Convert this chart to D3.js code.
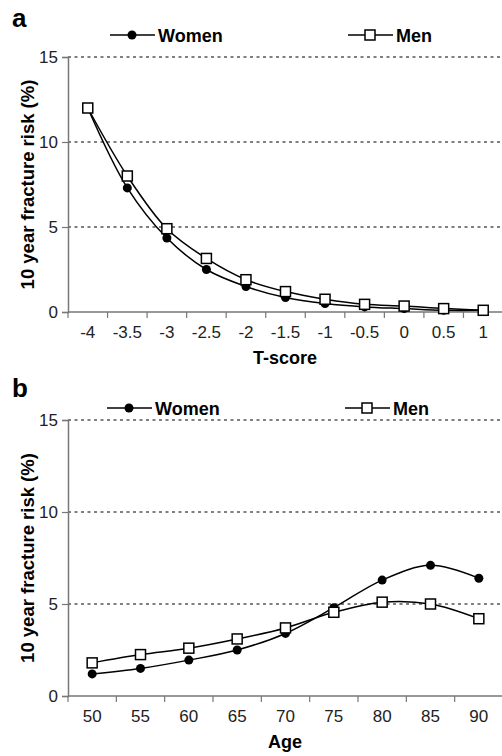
<!DOCTYPE html>
<html>
<head>
<meta charset="utf-8">
<script src="https://cdn.jsdelivr.net/npm/d3@7"></script>
<style>
  body { margin: 0; background: #fff; }
  svg text { font-family: "Liberation Sans", Arial, sans-serif; }
</style>
</head>
<body>
<svg id="chart" width="502" height="756"></svg>
<script>
const tScores = ["-4", "-3.5", "-3", "-2.5", "-2", "-1.5", "-1", "-0.5", "0", "0.5", "1"]
const womenByT = [12.0, 7.3, 4.35, 2.5, 1.5, 0.85, 0.5, 0.3, 0.2, 0.1, 0.1]
const menByT = [12.0, 8.0, 4.9, 3.15, 1.9, 1.2, 0.75, 0.45, 0.35, 0.2, 0.1]

const ages = ["50", "55", "60", "65", "70", "75", "80", "85", "90"]
const womenByAge = [1.2, 1.5, 1.95, 2.5, 3.4, 4.8, 6.3, 7.1, 6.4]
const menByAge = [1.8, 2.25, 2.6, 3.1, 3.7, 4.55, 5.1, 5.0, 4.2]

const yTicks = [0, 5, 10, 15]

const svg = d3.select("#chart")

const drawPanel = (opts) => {
  const { letter, cats, women, men, xTitle, top, bottom, legendY, letterY, legendX } = opts
  const left = 68, right = 503
  const x = d3.scaleBand().domain(cats).range([left, right])
  const y = d3.scaleLinear().domain([0, 15]).range([bottom, top])
  const g = svg.append("g")

  // dotted grid
  g.selectAll("line.grid")
    .data(yTicks.filter((t) => t > 0))
    .enter()
    .append("line")
    .attr("x1", left)
    .attr("x2", 502)
    .attr("y1", (d) => y(d))
    .attr("y2", (d) => y(d))
    .attr("stroke", "#000")
    .attr("stroke-width", 1)
    .attr("stroke-dasharray", "3,3.5")

  // y axis
  const yAxis = g.append("g")
    .attr("transform", `translate(${left},0)`)
    .call(d3.axisLeft(y).tickValues(yTicks).tickSize(6).tickPadding(4))
  yAxis.select(".domain").attr("stroke", "#777").attr("stroke-width", 1.5)
  yAxis.selectAll(".tick line").attr("stroke", "#777").attr("stroke-width", 1.2)
  yAxis.selectAll(".tick text").attr("font-size", 17).attr("fill", "#222")
    .attr("font-family", "Liberation Sans, Arial, sans-serif")

  // x axis, ticks sit between categories
  g.append("line")
    .attr("x1", left).attr("x2", 502)
    .attr("y1", bottom).attr("y2", bottom)
    .attr("stroke", "#777").attr("stroke-width", 1.5)
  const edges = cats.map((c) => x(c)).concat([right])
  g.selectAll("line.xt")
    .data(edges)
    .enter()
    .append("line")
    .attr("x1", (d) => d).attr("x2", (d) => d)
    .attr("y1", bottom).attr("y2", bottom + 6)
    .attr("stroke", "#777").attr("stroke-width", 1.2)
  g.selectAll("text.xl")
    .data(cats)
    .enter()
    .append("text")
    .attr("x", (d) => x(d) + x.bandwidth() / 2)
    .attr("y", bottom + 26)
    .attr("text-anchor", "middle")
    .attr("font-size", 17)
    .attr("fill", "#222")
    .text((d) => d)

  // axis titles
  g.append("text")
    .attr("x", 285).attr("y", bottom + 52)
    .attr("text-anchor", "middle")
    .attr("font-size", 18).attr("font-weight", "bold")
    .text(xTitle)
  g.append("text")
    .attr("transform", `translate(27,${(top + bottom) / 2}) rotate(-90)`)
    .attr("text-anchor", "middle")
    .attr("dominant-baseline", "central")
    .attr("font-size", 18.5).attr("font-weight", "bold")
    .text("10 year fracture risk (%)")

  // panel letter
  g.append("text")
    .attr("x", 12).attr("y", letterY)
    .attr("font-size", 26).attr("font-weight", "bold")
    .text(letter)

  const line = d3.line()
    .x((d, i) => x(cats[i]) + x.bandwidth() / 2)
    .y((d) => y(d))
    .curve(d3.curveCatmullRom.alpha(0.5))

  ;[women, men].forEach((series) => {
    g.append("path")
      .datum(series)
      .attr("d", line)
      .attr("fill", "none")
      .attr("stroke", "#000")
      .attr("stroke-width", 1.5)
  })

  g.selectAll("circle.w")
    .data(women)
    .enter()
    .append("circle")
    .attr("cx", (d, i) => x(cats[i]) + x.bandwidth() / 2)
    .attr("cy", (d) => y(d))
    .attr("r", 4.5)
    .attr("fill", "#000")

  g.selectAll("rect.m")
    .data(men)
    .enter()
    .append("rect")
    .attr("x", (d, i) => x(cats[i]) + x.bandwidth() / 2 - 5)
    .attr("y", (d) => y(d) - 5)
    .attr("width", 10).attr("height", 10)
    .attr("fill", "#fff")
    .attr("stroke", "#000")
    .attr("stroke-width", 1.5)

  // legend
  const lw = legendX[0], lm = legendX[1]
  g.append("line").attr("x1", lw).attr("x2", lw + 45).attr("y1", legendY).attr("y2", legendY)
    .attr("stroke", "#000").attr("stroke-width", 1.5)
  g.append("circle").attr("cx", lw + 22).attr("cy", legendY).attr("r", 4.5).attr("fill", "#000")
  g.append("text").attr("x", lw + 48).attr("y", legendY + 6.5)
    .attr("font-size", 18).attr("font-weight", "bold").text("Women")
  g.append("line").attr("x1", lm).attr("x2", lm + 45).attr("y1", legendY).attr("y2", legendY)
    .attr("stroke", "#000").attr("stroke-width", 1.5)
  g.append("rect").attr("x", lm + 17).attr("y", legendY - 5).attr("width", 10).attr("height", 10)
    .attr("fill", "#fff").attr("stroke", "#000").attr("stroke-width", 1.5)
  g.append("text").attr("x", lm + 48).attr("y", legendY + 6.5)
    .attr("font-size", 18).attr("font-weight", "bold").text("Men")
}

drawPanel({
  letter: "a", cats: tScores, women: womenByT, men: menByT, xTitle: "T-score",
  top: 57, bottom: 312, legendY: 35, letterY: 27, legendX: [110, 348],
})
drawPanel({
  letter: "b", cats: ages, women: womenByAge, men: menByAge, xTitle: "Age",
  top: 420, bottom: 696, legendY: 408, letterY: 397, legendX: [107, 345],
})
</script>
</body>
</html>
